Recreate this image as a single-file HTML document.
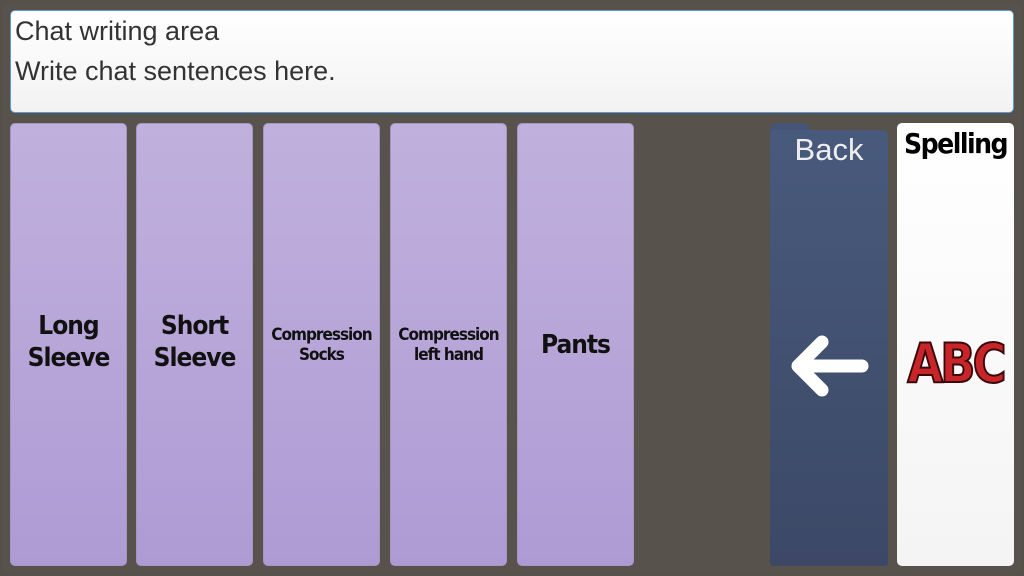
<!DOCTYPE html>
<html><head><style>
body{margin:0;width:1024px;height:576px;background:#55504a;position:relative;overflow:hidden;font-family:"Liberation Sans",sans-serif}
.frame{position:absolute;left:3px;top:3px;width:1018px;height:570px;background:#57524b}
.ta{position:absolute;left:10px;top:10px;width:1002px;height:101px;border:1px solid #5a9bd5;border-radius:5px;background:linear-gradient(#fff,#f2f2f2);box-sizing:content-box}
.ta div{position:absolute;left:4px;font-size:27px;color:#333;font-weight:300}
.b{position:absolute;top:123px;height:443px;width:117px;border-radius:5px;background:linear-gradient(#c0b0dd,#af9bd4);border:1px solid #a596c0;box-sizing:border-box;display:flex;align-items:center;justify-content:center;text-align:center;font-family:"DejaVu Sans Condensed","DejaVu Sans",sans-serif;font-weight:bold;color:#111}
.big{font-size:26px;line-height:32px;letter-spacing:-1px}
.sm{font-size:17px;line-height:20px;letter-spacing:-1px}
</style></head><body>
<div class="frame"></div>
<div class="ta"><div style="top:5px">Chat writing area</div><div style="top:45px">Write chat sentences here.</div></div>
<div class="b big" style="left:10px"><span style="margin-top:-5px">Long<br>Sleeve</span></div>
<div class="b big" style="left:136px"><span style="margin-top:-5px">Short<br>Sleeve</span></div>
<div class="b sm" style="left:263px"><span>Compression<br>Socks</span></div>
<div class="b sm" style="left:390px"><span>Compression<br>left hand</span></div>
<div class="b big" style="left:517px">Pants</div>
<div style="position:absolute;left:770px;top:123px;width:40px;height:20px;background:#465577;border-radius:8px 8px 0 0"></div>
<div style="position:absolute;left:770px;top:130px;width:118px;height:436px;background:linear-gradient(#485a7c,#3c4866);border-radius:5px 5px 3px 3px"></div>
<div style="position:absolute;left:770px;top:132px;width:118px;text-align:center;color:#eee;font-size:31px;font-weight:300">Back</div>
<svg style="position:absolute;left:788px;top:335px" width="82" height="62"><path d="M74 31H10M34 7L10 31L34 55" stroke="#fff" stroke-width="13" fill="none" stroke-linecap="round" stroke-linejoin="round"/></svg>
<div style="position:absolute;left:897px;top:123px;width:117px;height:443px;background:linear-gradient(#fff,#f4f4f4);border-radius:5px"></div>
<div style="position:absolute;left:897px;top:127px;width:117px;text-align:center;font-family:'DejaVu Sans Condensed',sans-serif;font-weight:bold;font-size:28px;letter-spacing:-1.5px;color:#000">Spelling</div>
<div style="position:absolute;left:897px;top:332px;width:117px;text-align:center;font-family:'DejaVu Sans Condensed',sans-serif;font-weight:bold;font-size:54px;letter-spacing:-3px;color:#c8252b;-webkit-text-stroke:2px #3a0a0a;transform:scaleX(0.95)">ABC</div>
</body></html>
